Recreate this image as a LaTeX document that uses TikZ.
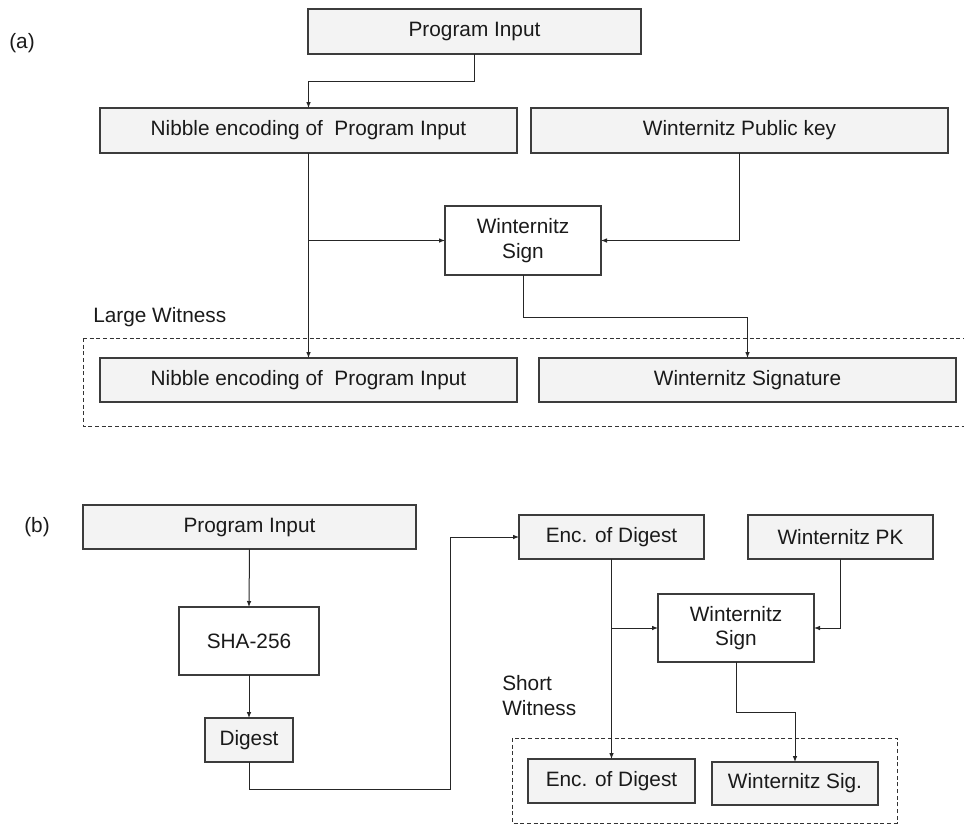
\documentclass[tikz,border=0pt]{standalone}
\usepackage{fontspec}
\setmainfont{Liberation Sans}
\usetikzlibrary{arrows.meta}
\definecolor{boxfill}{HTML}{F3F3F3}
\definecolor{boxline}{HTML}{3C3C3C}
\definecolor{txt}{HTML}{1A1A1A}
\newcommand{\bx}[7]{\node[#6, minimum width={(#4-#2)*0.75pt}, minimum height={(#5-#3)*0.75pt}] (#1) at ({(#2+#4)/2},{(#3+#5)/2}) {#7};}
\tikzset{
  base/.style={draw=boxline, line width=0.8pt, inner sep=0pt, outer sep=0pt, text=txt, font=\fontsize{15.6}{18.5}\selectfont, align=center},
  grey/.style={base, fill=boxfill},
  white/.style={base, fill=white},
  arr/.style={draw=black!85, line width=0.75pt, -{Latex[length=4.5pt,width=3.5pt]}},
  ln/.style={draw=black!85, line width=0.75pt},
  wit/.style={draw=black!80, line width=0.75pt, dash pattern=on 3pt off 2pt},
  lbl/.style={text=txt, font=\fontsize{15.6}{18.5}\selectfont, inner sep=0pt}
}
\begin{document}
\begin{tikzpicture}[x=0.75pt, y=-0.75pt]
\useasboundingbox (0,0) rectangle (964,826);
% ---------- (a) ----------
\node[lbl] (la) at (22,43) {(a)};
\draw[wit] (83,338) -- (968,338) (83,338) -- (83,426) -- (968,426);
\node[lbl, anchor=west] (lw) at (93,317) {Large Witness};
\bx{pia}{308}{9}{641}{54}{grey}{Program Input}
\bx{nib}{100}{108}{517}{153}{grey}{Nibble encoding of\ \ Program Input}
\bx{pk}{531}{108}{948}{153}{grey}{Winternitz Public key}
\bx{sign}{445}{206}{601}{275}{white}{Winternitz\\Sign}
\bx{nib2}{100}{358}{517}{402}{grey}{Nibble encoding of\ \ Program Input}
\bx{sig}{539}{358}{956}{402}{grey}{Winternitz Signature}
\draw[arr] (pia.south) -- ++(0,27) -| (nib.north);
\draw[arr] (nib.south) -- (nib2.north);
\draw[arr] (nib.south |- sign.west) -- (sign.west);
\draw[arr] (pk.south) |- (sign.east);
\draw[arr] (sign.south) -- ++(0,42) -| (sig.north);
% ---------- (b) ----------
\node[lbl] (lb) at (37,527) {(b)};
\bx{pib}{83}{505}{416}{549}{grey}{Program Input}
\bx{sha}{179}{607}{319}{675}{white}{SHA-256}
\bx{dig}{205}{718}{293}{762}{grey}{Digest}
\bx{enc}{519}{515}{704}{559}{grey}{Enc. of Digest}
\bx{pkb}{748}{515}{933}{559}{grey}{Winternitz PK}
\bx{signb}{658}{594}{814}{662}{white}{Winternitz\\Sign}
\draw[wit] (512,738) rectangle (897,823);
\node[lbl, anchor=west, align=left] (sw) at (502,695.5) {Short\\Witness};
\bx{enc2}{528}{759}{695}{803}{grey}{Enc. of Digest}
\bx{sigb}{712}{762}{878}{805}{grey}{Winternitz Sig.}
\coordinate (c1) at (450,789);
\draw[arr] (pib.south) -- (sha.north);
\draw[arr] (sha.south) -- (dig.north);
\draw[arr] (dig.south) |- (c1) |- (enc.west);
\draw[arr] (enc.south) -- (enc2.north);
\draw[arr] (enc.south |- signb.west) -- (signb.west);
\draw[arr] (pkb.south) |- (signb.east);
\draw[arr] (signb.south) -- ++(0,50) -| (sigb.north);
\end{tikzpicture}
\end{document}
